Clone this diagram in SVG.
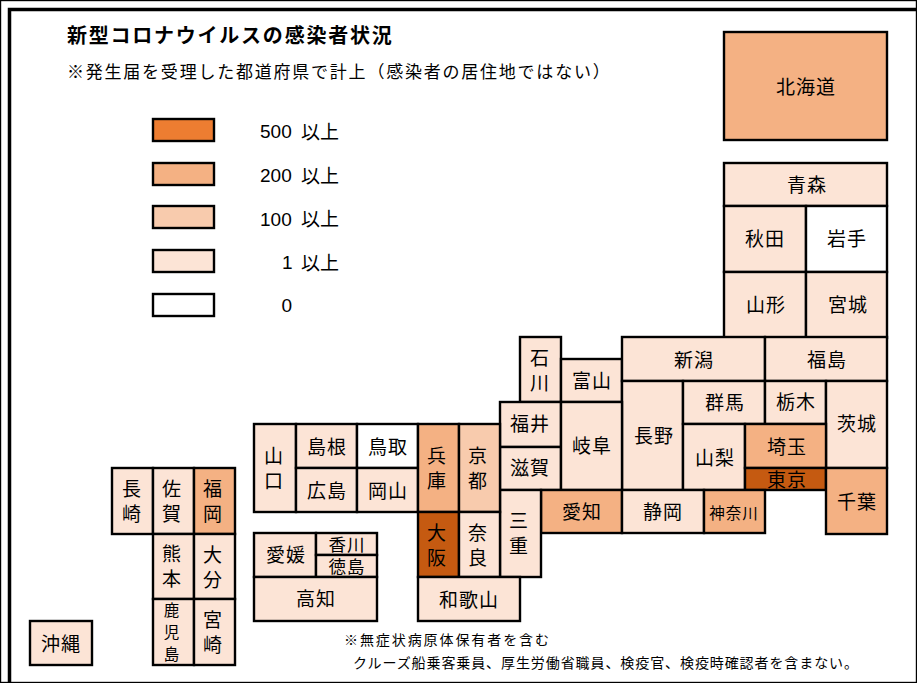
<svg xmlns="http://www.w3.org/2000/svg" width="917" height="683" viewBox="0 0 917 683">
<style>
text{font-family:"Noto Sans CJK JP","Liberation Sans",sans-serif;fill:#000;text-anchor:middle;font-size:19px;letter-spacing:1px}
rect{stroke:#000;stroke-width:2.4}
.a{fill:#C55A11}.b{fill:#F4B183}.c{fill:#F8CBAD}.d{fill:#FCE4D6}.e{fill:#fff}.f{fill:#ED7D31}
.s{font-size:15.5px}
.t{font-size:17.5px}
.l{text-anchor:start;font-size:18px;letter-spacing:.3px}
.g{text-anchor:start;font-family:"Liberation Sans","Noto Sans CJK JP",sans-serif;font-size:19px;letter-spacing:0}
.n{text-anchor:start;font-size:14px;letter-spacing:0}
</style>
<rect x="0" y="0" width="917" height="683" fill="#fff" stroke="none"/>
<path d="M9.5 683V9.5H917" fill="none" stroke="#000" stroke-width="3.5"/>
<g id="title">
<text class="l" x="67" y="43" style="font-weight:700;font-size:20px" textLength="325" lengthAdjust="spacing">新型コロナウイルスの感染者状況</text>
<text class="l" x="67" y="78" style="font-size:17px" textLength="543" lengthAdjust="spacing">※発生届を受理した都道府県で計上（感染者の居住地ではない）</text>
</g>
<g id="legend">
<rect class="f" x="153" y="119" width="61" height="22"/><text class="g" x="260" y="138">500<tspan x="301" y="139">以上</tspan></text>
<rect class="b" x="153" y="163" width="61" height="22"/><text class="g" x="260" y="182">200<tspan x="301" y="183">以上</tspan></text>
<rect class="c" x="153" y="206" width="61" height="22"/><text class="g" x="260" y="226">100<tspan x="301" y="226">以上</tspan></text>
<rect class="d" x="153" y="250" width="61" height="22"/><text class="g" x="282" y="269">1<tspan x="301" y="270">以上</tspan></text>
<rect class="e" x="153" y="294" width="61" height="22"/><text class="g" x="281.500" y="312">0</text>
</g>
<g id="hokkaido"><rect class="b" x="724" y="32" width="163" height="108"/><text x="806" y="94">北海道</text></g>
<g id="aomori"><rect class="d" x="724" y="163" width="163" height="43"/><text x="807" y="192">青森</text></g>
<g id="akita"><rect class="d" x="724" y="206" width="82" height="66"/><text x="765" y="246">秋田</text></g>
<g id="iwate"><rect class="e" x="806" y="206" width="81" height="66"/><text x="847" y="246">岩手</text></g>
<g id="yamagata"><rect class="d" x="724" y="272" width="82" height="66"/><text x="766" y="312">山形</text></g>
<g id="miyagi"><rect class="d" x="806" y="272" width="81" height="66"/><text x="848" y="312">宮城</text></g>
<g id="ishikawa"><rect class="d" x="520" y="337" width="41" height="65"/><text x="540" y="365">石</text><text x="540" y="390">川</text></g>
<g id="toyama"><rect class="d" x="561" y="359" width="61" height="43"/><text x="592" y="388">富山</text></g>
<g id="niigata"><rect class="d" x="622" y="337" width="143" height="44"/><text x="694" y="367">新潟</text></g>
<g id="fukushima"><rect class="d" x="765" y="337" width="122" height="44"/><text x="827" y="367">福島</text></g>
<g id="nagano"><rect class="d" x="622" y="381" width="61" height="109"/><text x="654" y="443">長野</text></g>
<g id="gunma"><rect class="d" x="683" y="381" width="82" height="43"/><text x="725" y="410">群馬</text></g>
<g id="tochigi"><rect class="d" x="765" y="381" width="61" height="43"/><text x="796" y="409">栃木</text></g>
<g id="ibaraki"><rect class="d" x="826" y="381" width="61" height="87"/><text x="857" y="431">茨城</text></g>
<g id="yamanashi"><rect class="d" x="683" y="424" width="62" height="66"/><text x="715" y="465">山梨</text></g>
<g id="saitama"><rect class="b" x="745" y="424" width="81" height="44"/><text x="787" y="454">埼玉</text></g>
<g id="tokyo"><rect class="a" x="745" y="468" width="81" height="22"/><text x="787" y="487">東京</text></g>
<g id="chiba"><rect class="b" x="826" y="468" width="61" height="66"/><text x="857" y="509">千葉</text></g>
<g id="fukui"><rect class="d" x="500" y="402" width="61" height="45"/><text x="530" y="431">福井</text></g>
<g id="shiga"><rect class="d" x="500" y="447" width="61" height="43"/><text x="530" y="475">滋賀</text></g>
<g id="gifu"><rect class="d" x="561" y="402" width="61" height="88"/><text x="592" y="453">岐阜</text></g>
<g id="aichi"><rect class="b" x="541" y="490" width="81" height="43"/><text x="582" y="519">愛知</text></g>
<g id="shizuoka"><rect class="d" x="622" y="490" width="82" height="43"/><text x="663" y="519">静岡</text></g>
<g id="kanagawa"><rect class="b" x="704" y="490" width="61" height="43"/><text class="s" x="734" y="519">神奈川</text></g>
<g id="mie"><rect class="d" x="500" y="490" width="41" height="87"/><text x="519" y="528">三</text><text x="519" y="553">重</text></g>
<g id="yamaguchi"><rect class="d" x="254" y="424" width="42" height="88"/><text x="274" y="463">山</text><text x="274" y="488">口</text></g>
<g id="shimane"><rect class="d" x="296" y="424" width="61" height="44"/><text x="327" y="454">島根</text></g>
<g id="tottori"><rect class="e" x="357" y="424" width="61" height="44"/><text x="388" y="454">鳥取</text></g>
<g id="hiroshima"><rect class="d" x="296" y="468" width="61" height="44"/><text x="327" y="498">広島</text></g>
<g id="okayama"><rect class="d" x="357" y="468" width="61" height="44"/><text x="388" y="498">岡山</text></g>
<g id="hyogo"><rect class="b" x="418" y="424" width="41" height="88"/><text x="437" y="463">兵</text><text x="437" y="488">庫</text></g>
<g id="kyoto"><rect class="c" x="459" y="424" width="41" height="88"/><text x="478" y="463">京</text><text x="478" y="488">都</text></g>
<g id="osaka"><rect class="a" x="418" y="512" width="41" height="65"/><text x="437" y="540">大</text><text x="437" y="565">阪</text></g>
<g id="nara"><rect class="d" x="459" y="512" width="41" height="65"/><text x="478" y="540">奈</text><text x="478" y="565">良</text></g>
<g id="wakayama"><rect class="d" x="418" y="577" width="102" height="44"/><text x="469" y="607">和歌山</text></g>
<g id="ehime"><rect class="d" x="254" y="533" width="62" height="44"/><text x="286" y="562">愛媛</text></g>
<g id="kagawa"><rect class="d" x="316" y="533" width="61" height="22"/><text class="t" x="347" y="551">香川</text></g>
<g id="tokushima"><rect class="d" x="316" y="555" width="61" height="22"/><text class="t" x="347" y="573">徳島</text></g>
<g id="kochi"><rect class="d" x="254" y="577" width="123" height="44"/><text x="316" y="606">高知</text></g>
<g id="nagasaki"><rect class="d" x="112" y="468" width="41" height="66"/><text x="132" y="496">長</text><text x="132" y="521">崎</text></g>
<g id="saga"><rect class="d" x="153" y="468" width="41" height="66"/><text x="172" y="496">佐</text><text x="172" y="521">賀</text></g>
<g id="fukuoka"><rect class="b" x="194" y="468" width="41" height="66"/><text x="213" y="496">福</text><text x="213" y="521">岡</text></g>
<g id="kumamoto"><rect class="d" x="153" y="534" width="41" height="65"/><text x="172" y="561">熊</text><text x="172" y="586">本</text></g>
<g id="oita"><rect class="d" x="194" y="534" width="41" height="65"/><text x="213" y="562">大</text><text x="213" y="587">分</text></g>
<g id="kagoshima"><rect class="d" x="153" y="599" width="41" height="66"/><text class="s" x="172" y="616">鹿</text><text class="s" x="172" y="638">児</text><text class="s" x="172" y="660">島</text></g>
<g id="miyazaki"><rect class="d" x="194" y="599" width="41" height="66"/><text x="213" y="627">宮</text><text x="213" y="652">崎</text></g>
<g id="okinawa"><rect class="d" x="30" y="621" width="62" height="44"/><text x="61" y="651">沖縄</text></g>
<g id="notes">
<text class="n" x="344" y="645" textLength="205" lengthAdjust="spacing">※無症状病原体保有者を含む</text>
<text class="n" x="353" y="668" textLength="505" lengthAdjust="spacing">クルーズ船乗客乗員、厚生労働省職員、検疫官、検疫時確認者を含まない。</text>
</g>
</svg>
